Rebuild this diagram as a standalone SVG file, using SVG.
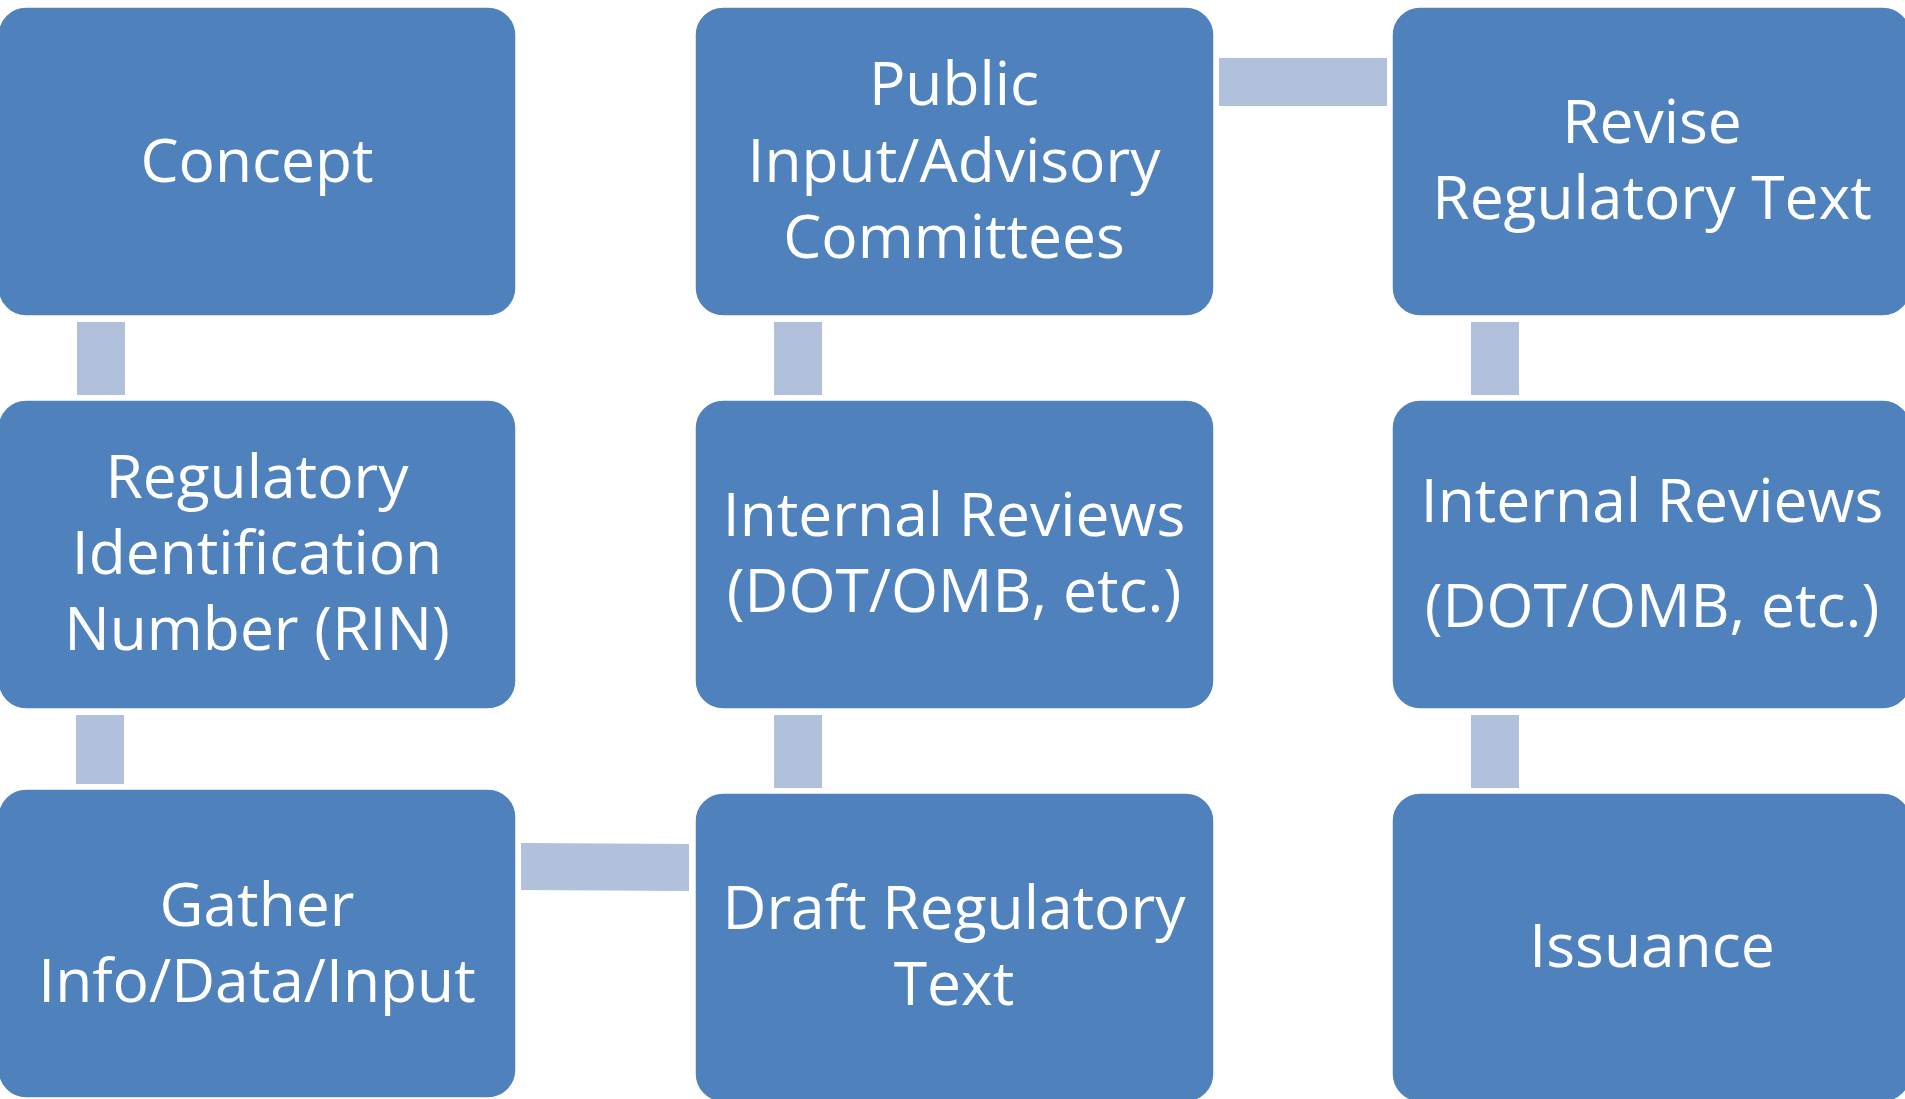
<svg xmlns="http://www.w3.org/2000/svg" width="1905" height="1099" viewBox="0 0 1905 1099">
<style>
.box{fill:#4F81BD;stroke:#ffffff;stroke-width:1.5}
.conn{fill:#B2C1DB}
.t{font-family:"Open Sans","Liberation Sans",sans-serif;font-size:60.5px;fill:#ffffff;text-anchor:middle}
</style>
<rect x="0" y="0" width="1905" height="1099" fill="#ffffff"/>
<g id="connectors">
<rect class="conn" x="77" y="322" width="48" height="73"/>
<rect class="conn" x="76" y="715" width="48" height="69"/>
<polygon class="conn" points="521,843 689,844 689,891 521,890"/>
<rect class="conn" x="774" y="715" width="48" height="73"/>
<rect class="conn" x="774" y="322" width="48" height="73"/>
<rect class="conn" x="1219" y="58" width="168" height="48"/>
<rect class="conn" x="1471" y="322" width="48" height="73"/>
<rect class="conn" x="1471" y="715" width="48" height="73"/>
</g>
<g id="concept">
<rect class="box" x="-2" y="7" width="518" height="309" rx="28"/>
<text class="t" x="257" y="182">Concept</text>
</g>
<g id="rin">
<rect class="box" x="-2" y="400" width="518" height="309" rx="28"/>
<text class="t" x="257" y="498">Regulatory</text>
<text class="t" x="257" y="574">Identification</text>
<text class="t" x="257" y="650">Number (RIN)</text>
</g>
<g id="gather">
<rect class="box" x="-2" y="789" width="518" height="309" rx="28"/>
<text class="t" x="257" y="926">Gather</text>
<text class="t" x="257" y="1002">Info/Data/Input</text>
</g>
<g id="draft">
<rect class="box" x="695" y="793" width="519" height="309" rx="28"/>
<text class="t" x="954" y="929">Draft Regulatory</text>
<text class="t" x="954" y="1005">Text</text>
</g>
<g id="internal-reviews-1">
<rect class="box" x="695" y="400" width="519" height="309" rx="28"/>
<text class="t" x="954" y="536">Internal Reviews</text>
<text class="t" x="954" y="612">(DOT/OMB, etc.)</text>
</g>
<g id="public-input">
<rect class="box" x="695" y="7" width="519" height="309" rx="28"/>
<text class="t" x="954" y="105">Public</text>
<text class="t" x="954" y="182">Input/Advisory</text>
<text class="t" x="954" y="258">Committees</text>
</g>
<g id="revise">
<rect class="box" x="1392" y="7" width="519" height="309" rx="28"/>
<text class="t" x="1652" y="143">Revise</text>
<text class="t" x="1652" y="219">Regulatory Text</text>
</g>
<g id="internal-reviews-2">
<rect class="box" x="1392" y="400" width="519" height="309" rx="28"/>
<text class="t" x="1652" y="522">Internal Reviews</text>
<text class="t" x="1652" y="627">(DOT/OMB, etc.)</text>
</g>
<g id="issuance">
<rect class="box" x="1392" y="793" width="519" height="309" rx="28"/>
<text class="t" x="1652" y="967">Issuance</text>
</g>
</svg>
